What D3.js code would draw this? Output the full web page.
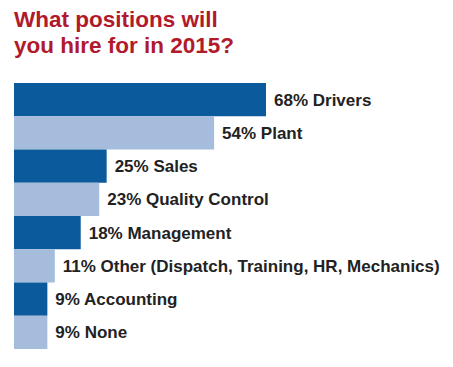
<!DOCTYPE html>
<html>
<head>
<meta charset="utf-8">
<script src="https://cdn.jsdelivr.net/npm/d3@7"></script>
<style>
  body { margin: 0; background: #fff; }
  svg { display: block; }
</style>
</head>
<body>
<div id="chart_root"></div>
<script>
const widthValue = 453;
const heightValue = 367;
const pad = { left: 14, top: 83, bottom: 18 };

const titleLines = ["What positions will", "you hire for in 2015?"];
const categories = ["Drivers", "Plant", "Sales", "Quality Control", "Management",
  "Other (Dispatch, Training, HR, Mechanics)", "Accounting", "None"];
const values = [68, 54, 25, 23, 18, 11, 9, 9];

const colors = ["#0b5a9c", "#a5bcdc"];

const svg = d3.select("#chart_root")
  .append("svg")
  .attr("width", widthValue)
  .attr("height", heightValue);

// title
svg.append("g")
  .selectAll("text")
  .data(titleLines)
  .join("text")
  .attr("x", 14)
  .attr("y", (d, i) => 27 + i * 26)
  .attr("fill", "#b01a2c")
  .style("font-family", "'Liberation Sans', Arial, sans-serif")
  .style("font-weight", "bold")
  .style("font-size", "22.5px")
  .text((d) => d);

// scales
const xScale = d3.scaleLinear().domain([0, 68]).range([pad.left, 266]);
const yScale = d3.scaleBand()
  .domain(categories)
  .range([pad.top, heightValue - pad.bottom])
  .padding(0);

const data = categories.map((c, i) => ({ cat: c, val: values[i] }));

// bars
svg.append("g")
  .selectAll("rect")
  .data(data)
  .join("rect")
  .attr("x", xScale(0))
  .attr("y", (d) => yScale(d.cat))
  .attr("width", (d) => xScale(d.val) - xScale(0))
  .attr("height", yScale.bandwidth())
  .attr("fill", (d, i) => colors[i % 2]);

// labels
svg.append("g")
  .selectAll("text")
  .data(data)
  .join("text")
  .attr("x", (d) => xScale(d.val) + 8)
  .attr("y", (d) => yScale(d.cat) + yScale.bandwidth() / 2)
  .attr("dy", "0.36em")
  .attr("fill", "#222")
  .style("font-family", "'Liberation Sans', Arial, sans-serif")
  .style("font-weight", "bold")
  .style("font-size", "17px")
  .text((d) => d.val + "% " + d.cat);
</script>
</body>
</html>
